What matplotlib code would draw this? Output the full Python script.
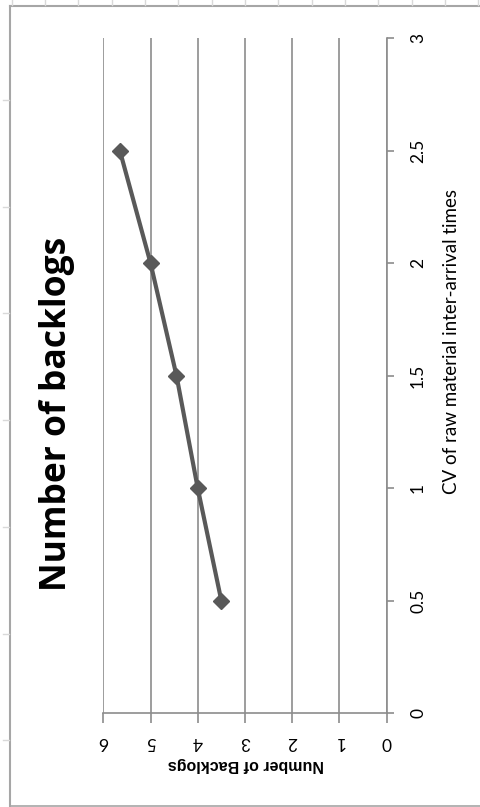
import numpy as np
import matplotlib.pyplot as plt
from matplotlib.lines import Line2D

cv_values = [0.5, 1.0, 1.5, 2.0, 2.5]
backlogs = [3.5, 4.0, 4.45, 5.0, 5.65]
cv_ticks = [0, 0.5, 1, 1.5, 2, 2.5, 3]
cv_tick_labels = ['0', '0.5', '1', '1.5', '2', '2.5', '3']
backlog_ticks = [0, 1, 2, 3, 4, 5, 6]

W, H = 480, 807
fig = plt.figure(figsize=(W / 100, H / 100), dpi=100)

def fx(px):
    return px / W

def fy(py):
    return 1 - py / H

# the whole chart is turned a quarter turn, so the CV axis runs up the right side
ax = fig.add_axes([fx(103.3), fy(713), fx(386.5) - fx(103.3), fy(38) - fy(713)])
ax.plot(backlogs, cv_values, color='#595959', lw=3, marker='D', ms=8.5,
        mfc='#595959', mec='#595959', solid_capstyle='round', zorder=5)

ax.set_xlim(6, 0)
ax.set_ylim(0, 3)
ax.set_xticks(backlog_ticks)
ax.set_yticks(cv_ticks)
ax.set_yticklabels(cv_tick_labels)

for side in ['top', 'left']:
    ax.spines[side].set_visible(False)
for side in ['bottom', 'right']:
    ax.spines[side].set_color('#8c8c8c')
    ax.spines[side].set_linewidth(1.2)

ax.yaxis.tick_right()
ax.tick_params(axis='y', direction='out', length=5, width=1.2, color='#8c8c8c',
               pad=12, labelsize=12.5, labelrotation=90)
ax.tick_params(axis='x', direction='out', length=7, width=1.2, color='#8c8c8c',
               pad=8, labelsize=12.5, labelrotation=180)
for lab in ax.get_yticklabels():
    lab.set_fontfamily('Lato')
    lab.set_va('center')
for lab in ax.get_xticklabels():
    lab.set_fontfamily('Lato')

ax.grid(axis='x', color='#8c8c8c', lw=1.2)
ax.set_axisbelow(True)

ax.set_xlabel('Number of Backlogs', fontsize=11.5, fontweight='bold',
              family='Liberation Sans', rotation=180, va='center', ha='center')
ax.xaxis.set_label_coords(0.504, -0.077)
ax.yaxis.set_label_position('right')
ax.set_ylabel('CV of raw material inter-arrival times', fontsize=13.5,
              family='Lato', rotation=90, va='center', ha='center')
ax.yaxis.set_label_coords(1.231, 0.551)

fig.text(fx(57), fy(414), 'Number of backlogs', rotation=90, fontsize=25.5,
         fontweight='bold', family='Open Sans', ha='center', va='center')

# sheet frame and ruler marks around the chart
frame = '#a6a6a6'
fig.add_artist(Line2D([fx(9.5), fx(9.5)], [fy(6), fy(807)], color=frame, lw=1.5))
fig.add_artist(Line2D([fx(9.5), fx(480)], [fy(6), fy(6)], color=frame, lw=1.5))
fig.add_artist(Line2D([fx(9.5), fx(480)], [fy(805.5), fy(805.5)], color=frame, lw=1.2))
for x in np.arange(11.7, 480, 33.33):
    fig.add_artist(Line2D([fx(x), fx(x)], [fy(0), fy(5)], color='#d9d9d9', lw=1))
for y in np.arange(100, 807, 106.7):
    fig.add_artist(Line2D([fx(3), fx(9)], [fy(y), fy(y)], color='#d9d9d9', lw=1))

fig.savefig('out.png', dpi=100)
